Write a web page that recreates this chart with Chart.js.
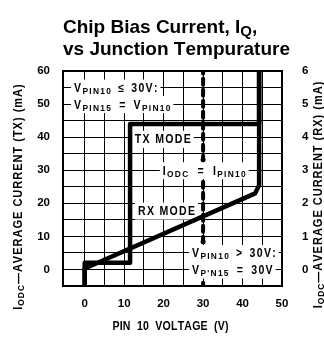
<!DOCTYPE html>
<html><head><meta charset="utf-8">
<script src="https://cdn.jsdelivr.net/npm/chart.js@4.4.1/dist/chart.umd.min.js"></script>
<style>html,body{margin:0;padding:0;background:#fff;}#wrap{width:324px;height:341px;}</style>
</head><body><div id="wrap"><canvas id="c" width="324" height="341"></canvas></div>
<script>
// ---- data ----
const voltageGrid = [0, 5, 10, 15, 20, 25, 30, 35, 40, 45, 50];
const voltageLabels = [0, 10, 20, 30, 40, 50];
const txGrid = [-5, 0, 5, 10, 15, 20, 25, 30, 35, 40, 45, 50, 55, 60];
const txLabels = [0, 10, 20, 30, 40, 50, 60];
const rxLabels = [0, 1, 2, 3, 4, 5, 6];

// TX mode current (left axis, mA) vs pin 10 voltage (V)
const txVolts   = [0, 0, 11.5, 11.5, 44.2, 44.2];
const txCurrent = [-6, 2, 2, 44, 44, 61];
// RX mode current (right axis, mA) vs pin 10 voltage (V)
const rxVolts   = [0, 0, 43.2, 44.2, 44.2];
const rxCurrent = [-0.6, 0.03, 2.3, 2.55, 6.1];
// 30 V boundary marker (left axis units), null = break
const boundaryVolts   = [30, 30, 30, 30, 30, 30, 30, 30];
const boundaryCurrent = [61, 33.2, null, 26.5, 8.4, null, -4, -6];

const SANS = "'Liberation Sans', Arial, Helvetica, sans-serif";

function pts(xs, ys) { return xs.map((v, i) => ({ x: v, y: ys[i] })); }

// text runs: ['text'] normal, ['text',1] subscript, number = gap in px
function runChars(ctx, r, st, cb) {
  const size = r[1] ? st.sub : st.size;
  ctx.font = 'bold ' + size + 'px ' + st.family;
  let w = 0;
  for (const ch of r[0]) {
    const cw = ctx.measureText(ch).width * st.sx;
    if (cb) cb(ch, w);
    w += cw + st.spacing;
  }
  return w;
}
function runsWidth(ctx, runs, st) {
  let w = 0;
  for (const r of runs) w += (typeof r === 'number') ? r : runChars(ctx, r, st);
  return w - st.spacing;
}
function drawRuns(ctx, runs, x, y, st) {
  ctx.textBaseline = 'alphabetic'; ctx.textAlign = 'left'; ctx.fillStyle = '#000';
  for (const r of runs) {
    if (typeof r === 'number') { x += r; continue; }
    const yy = y + (r[1] ? st.drop : 0), x0 = x;
    x += runChars(ctx, r, st, (ch, off) => {
      ctx.save(); ctx.translate(x0 + off, yy); ctx.scale(st.sx, 1);
      ctx.fillText(ch, 0, 0); ctx.restore();
    });
  }
}

const noteStyle = { size: 12, sub: 9.5, drop: 2, family: SANS, sx: 0.88, spacing: 1.3 };
const notes = [
  { x: -2.7, y: 55,   runs: [['V'], ['PIN10', 1], 6, ['\u2264'], 6, ['30V:']] },
  { x: -2.7, y: 50,   runs: [['V'], ['PIN15', 1], 7, ['='], 7, ['V'], ['PIN10', 1]] },
  { x: 12.7, y: 39.5, runs: [['TX MODE']] },
  { x: 19.8, y: 30,   runs: [['I'], ['ODC', 1], 8, ['='], 8, ['I'], ['PIN10', 1]] },
  { x: 13.5, y: 17.8, runs: [['RX MODE']] },
  { x: 27.2, y: 5,    runs: [['V'], ['PIN10', 1], 6, ['>'], 6, ['30V:']] },
  { x: 27.2, y: 0,    runs: [['V'], ["P'N15", 1], 7, ['='], 7, ['30V']] }
];

const deco = {
  id: 'deco',
  beforeDatasetsDraw(chart) {
    const ctx = chart.ctx, xs = chart.scales.x, ys = chart.scales.y;
    ctx.save();
    for (const n of notes) {
      const px = xs.getPixelForValue(n.x), cy = ys.getPixelForValue(n.y);
      const w = runsWidth(ctx, n.runs, noteStyle);
      ctx.fillStyle = '#fff';
      ctx.fillRect(px - 3, cy - 8, w + 6, 17);
      drawRuns(ctx, n.runs, px, cy + 4.5, noteStyle);
    }
    ctx.restore();
  },
  afterDatasetsDraw(chart) {
    const ctx = chart.ctx, a = chart.chartArea;
    ctx.save();
    ctx.strokeStyle = '#000'; ctx.lineWidth = 2;
    ctx.strokeRect(a.left, a.top, a.right - a.left, a.bottom - a.top);
    ctx.restore();
  },
  afterDraw(chart) {
    const ctx = chart.ctx;
    ctx.save();
    const tSt = { size: 19, sub: 15, drop: 3, family: SANS, sx: 1, spacing: 0 };
    drawRuns(ctx, [['Chip Bias Current, I'], ['Q', 1], [',']], 63, 33, tSt);
    drawRuns(ctx, [['vs Junction Tempurature']], 63, 55, tSt);

    const aSt = { size: 12.5, sub: 9.5, drop: 2, family: SANS, sx: 0.88, spacing: 1.0 };
    const left = [['I'], ['ODC', 1], ['\u2014AVERAGE CURRENT (TX) (mA)']];
    const right = [['I'], ['ODC', 1], ['\u2014AVERAGE CURRENT (RX) (mA)']];
    let w = runsWidth(ctx, left, aSt);
    ctx.save(); ctx.translate(21.5, 197); ctx.rotate(-Math.PI / 2);
    drawRuns(ctx, left, -w / 2, 0, aSt); ctx.restore();
    w = runsWidth(ctx, right, aSt);
    ctx.save(); ctx.translate(322, 195); ctx.rotate(-Math.PI / 2);
    drawRuns(ctx, right, -w / 2, 0, aSt); ctx.restore();

    const xSt = { size: 12, sub: 9, drop: 2, family: SANS, sx: 0.88, spacing: 0.2 };
    const xr = [['PIN  10  VOLTAGE  (V)']];
    w = runsWidth(ctx, xr, xSt);
    drawRuns(ctx, xr, 170.5 - w / 2, 329.5, xSt);
    ctx.restore();
  }
};

const tickFont = { family: SANS, size: 11.5, weight: 'bold' };

new Chart(document.getElementById('c'), {
  type: 'scatter',
  data: {
    datasets: [
      { data: pts(txVolts, txCurrent), yAxisID: 'y', showLine: true, borderColor: '#000', borderWidth: 4.5,
        pointRadius: 0, tension: 0, borderJoinStyle: 'round', fill: false },
      { data: pts(rxVolts, rxCurrent), yAxisID: 'y2', showLine: true, borderColor: '#000', borderWidth: 4.5,
        pointRadius: 0, tension: 0, borderJoinStyle: 'round', fill: false },
      { data: pts(boundaryVolts, boundaryCurrent), yAxisID: 'y', showLine: true, spanGaps: false,
        borderColor: '#000', borderWidth: 4, borderDash: [6, 5], borderCapStyle: 'round',
        pointRadius: c => (c.dataIndex === 1 || c.dataIndex === 4) ? 2.5 : 0,
        pointBackgroundColor: '#000', pointBorderWidth: 0, tension: 0, fill: false }
    ]
  },
  options: {
    responsive: false, animation: false, devicePixelRatio: 1,
    layout: { padding: { top: 71, left: 0, right: 0, bottom: 0 } },
    plugins: { legend: { display: false }, tooltip: { enabled: false }, title: { display: false } },
    scales: {
      x: {
        type: 'linear', min: -5.5, max: 50,
        afterBuildTicks: s => { s.ticks = voltageGrid.map(v => ({ value: v })); },
        afterFit: s => { s.height = 55; },
        ticks: { autoSkip: false, maxRotation: 0, padding: 11, color: '#000', font: tickFont,
          callback: v => voltageLabels.includes(v) ? String(v) : '' },
        grid: { color: '#000', lineWidth: 1, drawTicks: false },
        border: { display: false }
      },
      y: {
        type: 'linear', position: 'left', min: -5, max: 60,
        afterBuildTicks: s => { s.ticks = txGrid.map(v => ({ value: v })); },
        afterFit: s => { s.width = 63; },
        ticks: { autoSkip: false, padding: 13, color: '#000', font: tickFont,
          callback: v => txLabels.includes(v) ? String(v) : '' },
        grid: { color: '#000', lineWidth: 1, drawTicks: false },
        border: { display: false }
      },
      y2: {
        type: 'linear', position: 'right', min: -0.5, max: 6,
        afterBuildTicks: s => { s.ticks = rxLabels.map(v => ({ value: v })); },
        afterFit: s => { s.width = 42; },
        ticks: { autoSkip: false, padding: 20, color: '#000', font: tickFont,
          callback: v => rxLabels.includes(v) ? String(v) : '' },
        grid: { display: false, drawTicks: false },
        border: { display: false }
      }
    }
  },
  plugins: [deco]
});
</script>
</body></html>
